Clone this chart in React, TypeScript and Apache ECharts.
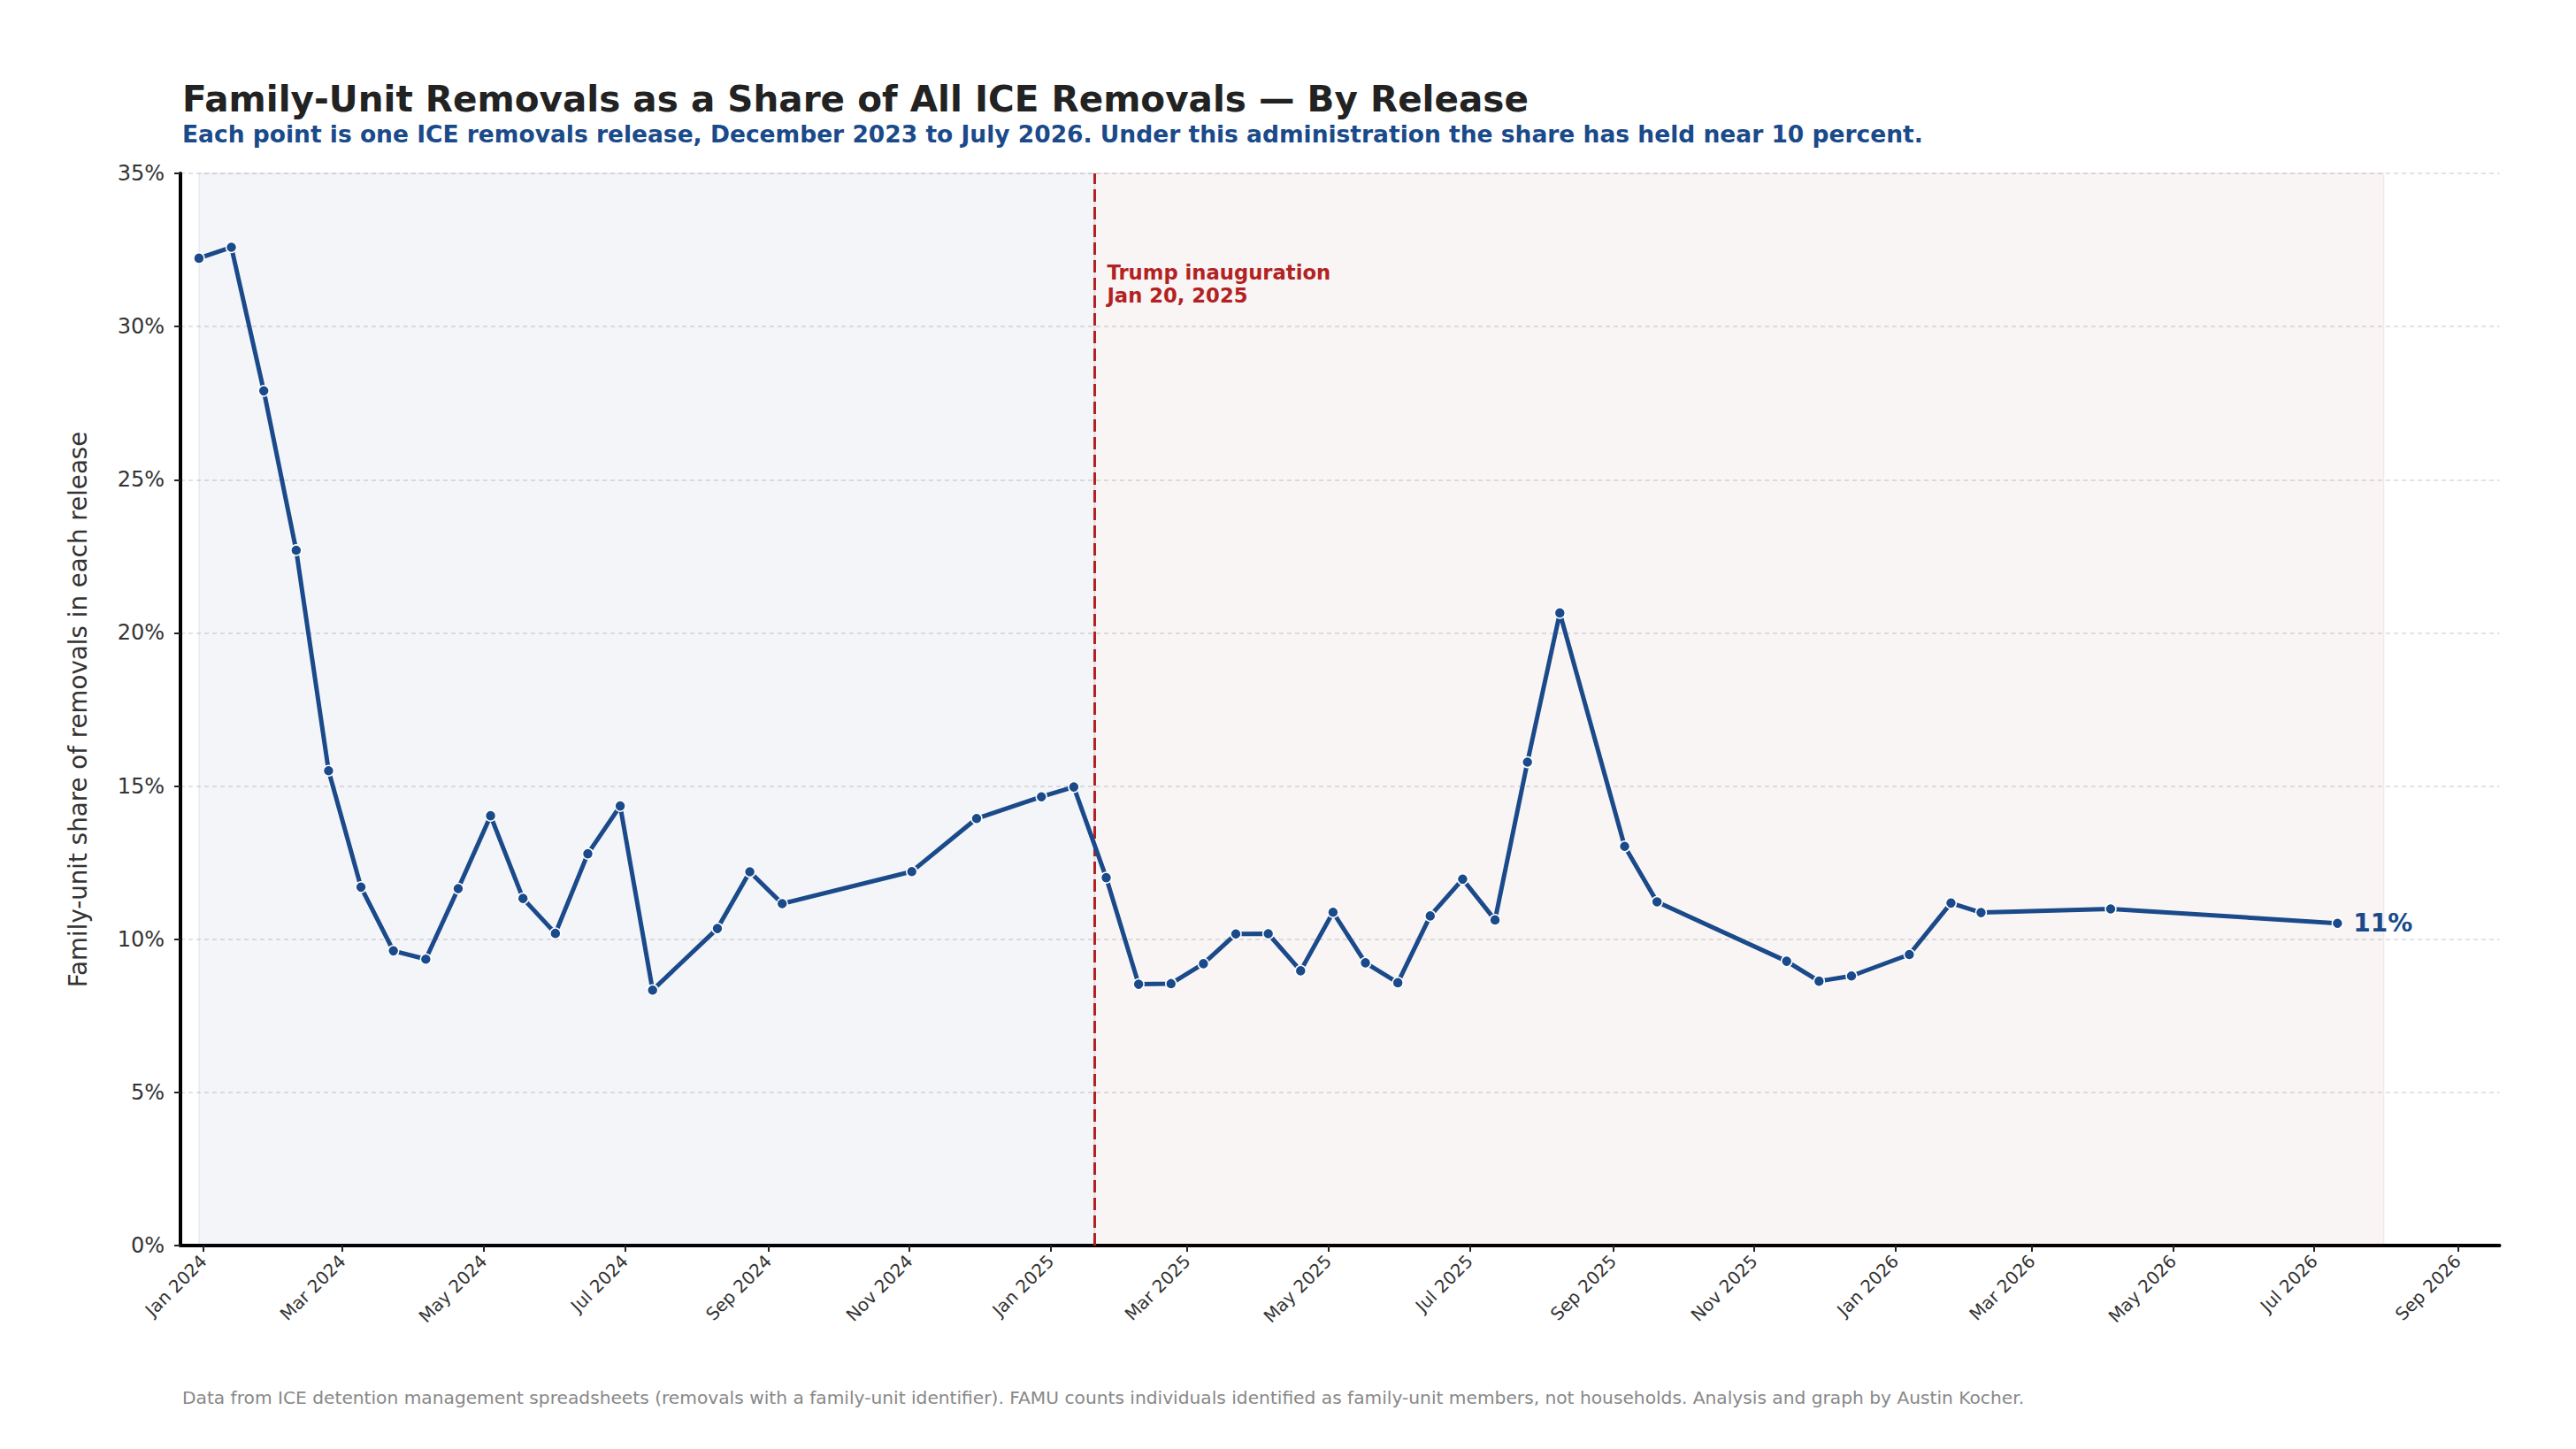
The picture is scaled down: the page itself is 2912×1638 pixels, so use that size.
import React, { useEffect, useRef } from "react";
import * as echarts from "echarts";

// ---------- data ----------
const RELEASE_DATES: string[] = [
  "2023-12-30", "2024-01-13", "2024-01-27", "2024-02-10", "2024-02-24", "2024-03-09",
  "2024-03-23", "2024-04-06", "2024-04-20", "2024-05-04", "2024-05-18", "2024-06-01",
  "2024-06-15", "2024-06-29", "2024-07-13", "2024-08-10", "2024-08-24", "2024-09-07",
  "2024-11-02", "2024-11-30", "2024-12-28", "2025-01-11", "2025-01-25", "2025-02-08",
  "2025-02-22", "2025-03-08", "2025-03-22", "2025-04-05", "2025-04-19", "2025-05-03",
  "2025-05-17", "2025-05-31", "2025-06-14", "2025-06-28", "2025-07-12", "2025-07-26",
  "2025-08-09", "2025-09-06", "2025-09-20", "2025-11-15", "2025-11-29", "2025-12-13",
  "2026-01-07", "2026-01-25", "2026-02-07", "2026-04-04", "2026-07-11",
];
const FAMILY_SHARE: number[] = [
  32.23, 32.59, 27.9, 22.7, 15.5, 11.7, 9.62, 9.35, 11.65, 14.03, 11.33, 10.19,
  12.79, 14.35, 8.34, 10.35, 12.2, 11.16, 12.21, 13.94, 14.65, 14.97, 12.01, 8.53,
  8.55, 9.2, 10.17, 10.18, 8.97, 10.88, 9.23, 8.58, 10.76, 11.96, 10.63, 15.78,
  20.65, 13.03, 11.22, 9.28, 8.63, 8.8, 9.5, 11.18, 10.87, 10.99, 10.52,
];
const TICK_MONTHS: string[] = [
  "2024-01-01", "2024-03-01", "2024-05-01", "2024-07-01", "2024-09-01", "2024-11-01",
  "2025-01-01", "2025-03-01", "2025-05-01", "2025-07-01", "2025-09-01", "2025-11-01",
  "2026-01-01", "2026-03-01", "2026-05-01", "2026-07-01", "2026-09-01",
];
const MONTH_NAMES: string[] = ["Jan", "Feb", "Mar", "Apr", "May", "Jun", "Jul", "Aug", "Sep", "Oct", "Nov", "Dec"];
const X_MIN = "2023-12-22";
const X_MAX = "2026-09-19";
const INAUGURATION = "2025-01-20";
const SHADE_END = "2026-07-31";
const ANNOTATION_Y = 31.4;
const END_LABEL = "11%";

const TITLE = "Family-Unit Removals as a Share of All ICE Removals \u2014 By Release";
const SUBTITLE =
  "Each point is one ICE removals release, December 2023 to July 2026. Under this administration the share has held near 10 percent.";
const FOOTER =
  "Data from ICE detention management spreadsheets (removals with a family-unit identifier). FAMU counts individuals identified as family-unit members, not households. Analysis and graph by Austin Kocher.";
const Y_NAME = "Family-unit share of removals in each release";
const ANNOTATION_TEXT = "Trump inauguration\nJan 20, 2025";

const FONT = "DejaVu Sans";
const BLUE = "#1a4a8a";
const RED = "#b22222";

const ts = (s: string) => {
  const [y, m, d] = s.split("-").map(Number);
  return Date.UTC(y, m - 1, d);
};

export default function App() {
  const ref = useRef<HTMLDivElement>(null);
  useEffect(() => {
    if (!ref.current) return;
    const chart = echarts.init(ref.current, null, { renderer: "svg" });
    const ticks = TICK_MONTHS.map(ts);
    const data = RELEASE_DATES.map((d, i) => [ts(d), FAMILY_SHARE[i]]);
    chart.setOption({
      animation: false,
      backgroundColor: "#ffffff",
      textStyle: { fontFamily: FONT },
      title: [
        {
          text: TITLE,
          left: 206,
          top: 91,
          padding: 0,
          textStyle: { fontSize: 40.5, fontWeight: "bold", color: "#222222", fontFamily: FONT },
        },
        {
          text: SUBTITLE,
          left: 206,
          top: 138,
          padding: 0,
          textStyle: { fontSize: 26.5, fontWeight: "bold", color: BLUE, fontFamily: FONT },
        },
      ],
      graphic: [
        {
          type: "text",
          left: 206,
          top: 1570,
          style: { text: FOOTER, fontSize: 20.2, fill: "#888888", fontFamily: FONT },
        },
      ],
      grid: { left: 204, right: 86.5, top: 196, bottom: 230, containLabel: false },
      xAxis: {
        type: "value",
        min: ts(X_MIN),
        max: ts(X_MAX),
        axisLine: { show: true, onZero: false, lineStyle: { color: "#000000", width: 4 } },
        axisTick: { show: true, customValues: ticks, length: 7, lineStyle: { color: "#222222", width: 2 } },
        axisLabel: {
          customValues: ticks,
          rotate: 45,
          fontSize: 20,
          color: "#333333",
          margin: 14,
          hideOverlap: false,
          fontFamily: FONT,
          formatter: (v: number) => {
            const d = new Date(v);
            return MONTH_NAMES[d.getUTCMonth()] + " " + d.getUTCFullYear();
          },
        },
        splitLine: { show: false },
      },
      yAxis: {
        type: "value",
        min: 0,
        max: 35,
        interval: 5,
        name: Y_NAME,
        nameLocation: "middle",
        nameGap: 102,
        nameTextStyle: { fontSize: 27.7, color: "#333333", fontFamily: FONT },
        axisLine: { show: true, lineStyle: { color: "#000000", width: 4 } },
        axisTick: { show: true, length: 7, lineStyle: { color: "#222222", width: 2 } },
        axisLabel: { formatter: "{value}%", fontSize: 24, color: "#333333", margin: 18, fontFamily: FONT },
        splitLine: { show: true, lineStyle: { type: [5, 4], color: "#dadada", width: 1.5 } },
      },
      series: [
        {
          type: "line",
          data,
          symbol: "circle",
          symbolSize: 12,
          lineStyle: { color: BLUE, width: 5 },
          itemStyle: { color: BLUE, borderColor: "#ffffff", borderWidth: 1.5 },
          z: 5,
          endLabel: {
            show: true,
            formatter: END_LABEL,
            fontSize: 28,
            fontWeight: "bold",
            color: BLUE,
            distance: 18,
            fontFamily: FONT,
          },
          markArea: {
            silent: true,
            data: [
              [
                { xAxis: ts(RELEASE_DATES[0]), itemStyle: { color: "rgba(40,60,140,0.05)", borderColor: "rgba(40,60,140,0.08)", borderWidth: 1.5 } },
                { xAxis: ts(INAUGURATION) },
              ],
              [
                { xAxis: ts(INAUGURATION), itemStyle: { color: "rgba(140,20,20,0.045)", borderColor: "rgba(140,20,20,0.07)", borderWidth: 1.5 } },
                { xAxis: ts(SHADE_END) },
              ],
            ],
          },
          markLine: {
            silent: true,
            symbol: "none",
            label: { show: false },
            lineStyle: { color: RED, width: 3, type: [14, 6] },
            data: [{ xAxis: ts(INAUGURATION) }],
          },
          markPoint: {
            silent: true,
            symbol: "circle",
            symbolSize: 0,
            data: [
              {
                coord: [ts(INAUGURATION), ANNOTATION_Y],
                label: {
                  show: true,
                  position: "right",
                  distance: 14,
                  formatter: ANNOTATION_TEXT,
                  fontSize: 22.7,
                  lineHeight: 26,
                  fontWeight: "bold",
                  color: RED,
                  align: "left",
                  fontFamily: FONT,
                },
              },
            ],
          },
        },
      ],
    });
    return () => chart.dispose();
  }, []);
  return (
    <div
      ref={ref}
      style={{ position: "fixed", left: 0, top: 0, width: "2912px", height: "1638px", background: "#fff" }}
    />
  );
}
